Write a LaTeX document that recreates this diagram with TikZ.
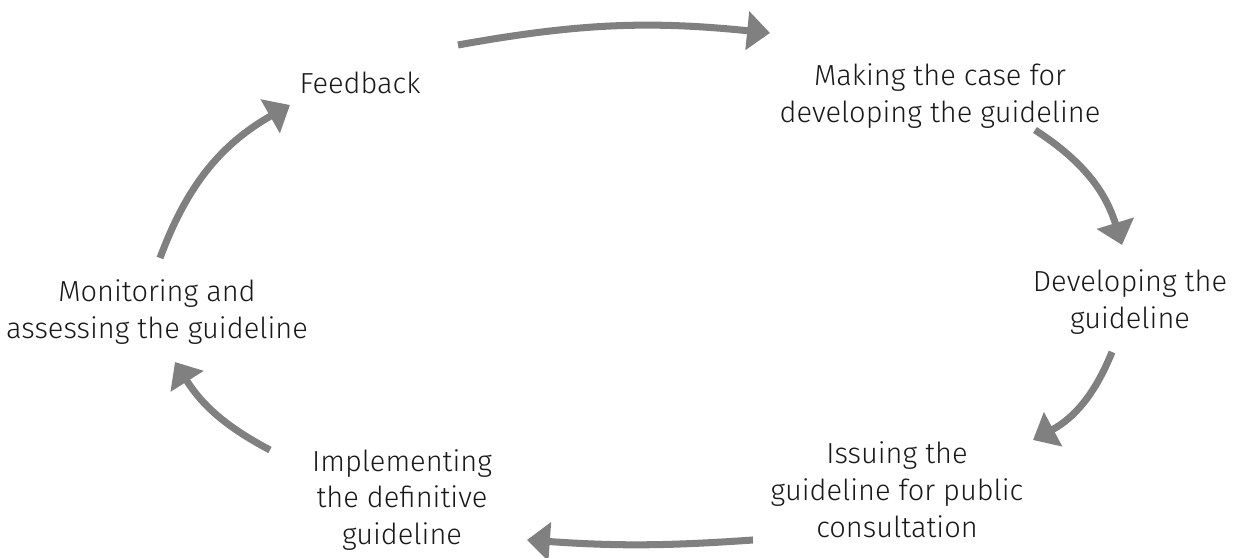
\documentclass[tikz,border=0pt]{standalone}
\usepackage{fontspec}
\setmainfont{Fira Sans Light}
\usetikzlibrary{arrows.meta}
\definecolor{arrowgray}{RGB}{128,128,128}

\begin{document}
\begin{tikzpicture}[x=0.02cm,y=0.02cm,
        stage/.style={align=center,font=\fontsize{16.5}{21}\selectfont,text=black!90},
        cyc/.style={arrowgray,line width=4pt,-{Triangle[length=13pt,width=21.5pt]}}]
                \useasboundingbox (0,0) rectangle (1235,558);
                \node[stage] (fb) at (360,475) {Feedback};
                \node[stage] (mk) at (940,462) {Making the case for\\developing the guideline};
                \node[stage] (dv) at (1130,256) {Developing the\\guideline};
                \node[stage] (is) at (897,68) {Issuing the\\guideline for public\\consultation};
                \node[stage] (im) at (402,58) {Implementing\\the definitive\\guideline};
                \node[stage] (mo) at (157,246) {Monitoring and\\assessing the guideline};
                % arrow ends
                \coordinate (a1) at (458,513);  \coordinate (b1) at (770,525);
                \coordinate (a2) at (1035,428); \coordinate (b2) at (1122,313);
                \coordinate (a3) at (1112,206); \coordinate (b3) at (1033,118);
                \coordinate (a4) at (753,18);   \coordinate (b4) at (527,18);
                \coordinate (a5) at (270,108);  \coordinate (b5) at (175,196);
                \coordinate (a6) at (160,300);  \coordinate (b6) at (290,453);
                \draw[cyc] (a1) to[bend left=8] (b1);
                \draw[cyc] (a2) to[bend left=20] (b2);
                \draw[cyc] (a3) to[bend left=20] (b3);
                \draw[cyc] (a4) to[bend left=4] (b4);
                \draw[cyc] (a5) to[bend left=15] (b5);
                \draw[cyc] (a6) to[bend left=20] (b6);
\end{tikzpicture}
\end{document}
